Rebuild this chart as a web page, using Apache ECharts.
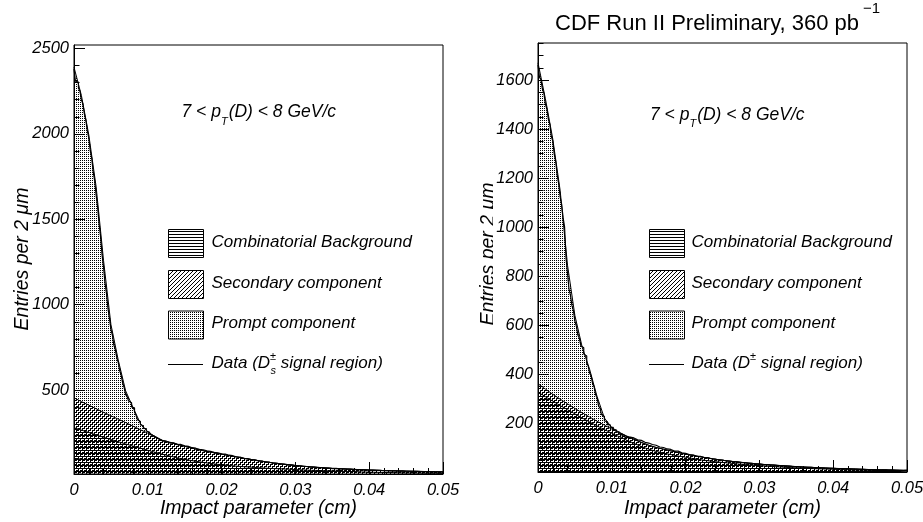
<!DOCTYPE html>
<html>
<head>
<meta charset="UTF-8">
<title>Impact parameter fit</title>
<style>
  body{margin:0;padding:0;background:#fff;}
  #chart{width:923px;height:522px;}
</style>
</head>
<body>
<div id="chart"></div>
<script src="https://cdn.jsdelivr.net/npm/echarts@6/dist/echarts.min.js"></script>
<script>
// data histograms, entries per 2 um
// 2 um steps up to 0.012 cm, then drawn in 5 um steps
var fineW = 0.0002, coarseW = 0.0005, fineEnd = 0.012;
var dsFine = [
  2380, 2308, 2302, 2268, 2251, 2199, 2176, 2118, 2081, 2019,
  1978, 1902, 1858, 1779, 1726, 1641, 1571, 1474, 1398, 1293,
  1221, 1128, 1066, 979, 921, 855, 822, 764, 737, 689,
  661, 612, 586, 540, 515, 474, 462, 436, 426, 401,
  396, 372, 354, 326, 316, 296, 293, 276, 275, 261,
  254, 246, 240, 233, 230, 222, 220, 211, 210, 203
];
var dsCoarse = [
  201, 190, 192, 181, 182, 174,
  171, 163, 160, 153, 151, 144, 141, 136, 133, 127,
  125, 119, 116, 110, 108, 101, 99, 93, 92, 86,
  84, 78, 78, 72, 71, 67, 66, 61, 62, 57,
  56, 54, 53, 49, 50, 46, 47, 43, 44, 41,
  42, 39, 39, 37, 37, 35, 35, 33, 34, 32,
  32, 30, 30, 28, 29, 27, 28, 26, 27, 25,
  25, 24, 25, 23, 23, 22, 23, 21, 22, 21
];
var dpFine = [
  1662, 1612, 1601, 1563, 1546, 1502, 1483, 1441, 1420, 1371,
  1352, 1298, 1268, 1212, 1178, 1124, 1094, 1039, 1001, 874,
  811, 748, 722, 680, 660, 617, 597, 561, 548, 517,
  509, 483, 475, 446, 435, 405, 394, 362, 350, 318,
  305, 273, 262, 236, 228, 210, 207, 195, 194, 184,
  184, 174, 174, 165, 166, 156, 157, 148, 150, 141
];
var dpCoarse = [
  144, 141, 133, 131, 123, 120,
  114, 111, 104, 102, 96, 94, 87, 87, 80, 78,
  73, 72, 66, 66, 61, 61, 56, 55, 51, 51,
  47, 46, 43, 43, 40, 40, 37, 37, 34, 35,
  32, 32, 30, 30, 28, 28, 26, 26, 24, 24,
  23, 22, 21, 21, 20, 19, 19, 18, 17, 17,
  16, 16, 15, 15, 14, 14, 13, 13, 12, 12,
  11, 11, 10, 11, 9, 10, 9, 9, 8, 9
];

// fit components, stacked tops (bkg, bkg+secondary, bkg+secondary+prompt)
var compX = [0, 0.001, 0.002, 0.003, 0.004, 0.005, 0.006, 0.007, 0.008, 0.009,
  0.010, 0.011, 0.012, 0.013, 0.014, 0.015, 0.016, 0.017, 0.018, 0.019,
  0.020, 0.021, 0.022, 0.023, 0.024, 0.025, 0.026, 0.027, 0.028, 0.029,
  0.030, 0.031, 0.032, 0.033, 0.034, 0.035, 0.036, 0.037, 0.038, 0.039,
  0.040, 0.041, 0.042, 0.043, 0.044, 0.045, 0.046, 0.047, 0.048, 0.049, 0.050];

var dsBkg = [280, 266, 252, 238, 224, 211, 198, 185, 172, 160,
  148, 136, 125, 114, 104, 95, 87, 80, 74, 68,
  63, 59, 55, 52, 49, 46, 43, 41, 39, 37,
  35, 33, 31, 30, 28, 27, 25, 24, 23, 21,
  20, 19, 18, 17, 16, 15, 15, 14, 13, 13, 12];
var dsBkgSec = [455, 433, 412, 391, 370, 350, 330, 310, 289, 268,
  248, 224, 204, 193, 182, 171, 160, 150, 141, 133,
  125, 117, 109, 101, 94, 87, 80, 74, 69, 64,
  59, 55, 51, 48, 45, 42, 40, 38, 36, 34,
  32, 31, 29, 28, 27, 26, 25, 24, 23, 22, 21];
var dsAll = [2390, 2225, 1995, 1690, 1260, 885, 675, 495, 398, 305,
  255, 228, 206, 195, 184, 171, 160, 150, 141, 133,
  125, 117, 109, 101, 94, 87, 80, 74, 69, 64,
  59, 55, 51, 48, 45, 42, 40, 38, 36, 34,
  32, 31, 29, 28, 27, 26, 25, 24, 23, 22, 21];

var dpBkg = [328, 309, 291, 273, 256, 239, 222, 206, 190, 175,
  160, 146, 132, 119, 106, 95, 86, 79, 73, 67,
  62, 57, 52, 48, 44, 41, 38, 35, 32, 30,
  28, 26, 24, 22, 20, 19, 17, 16, 15, 14,
  13, 12, 11, 10, 10, 9, 8, 8, 7, 7, 6];
var dpBkgSec = [362, 340, 319, 299, 280, 261, 243, 226, 209, 193,
  177, 162, 148, 135, 122, 111, 102, 95, 88, 81,
  75, 69, 64, 59, 54, 50, 46, 43, 40, 37,
  34, 32, 30, 28, 26, 24, 22, 21, 19, 18,
  17, 16, 15, 14, 13, 12, 11, 11, 10, 9, 9];
var dpAll = [1670, 1524, 1360, 1150, 845, 640, 510, 420, 310, 222,
  183, 164, 149, 136, 123, 111, 102, 95, 88, 81,
  75, 69, 64, 59, 54, 50, 46, 43, 40, 37,
  34, 32, 30, 28, 26, 24, 22, 21, 19, 18,
  17, 16, 15, 14, 13, 12, 11, 11, 10, 9, 9];

// axis ticks
var dsYTicks = [500, 1000, 1500, 2000, 2500];
var dsYMinor = [100, 200, 300, 400, 600, 700, 800, 900, 1100, 1200, 1300, 1400,
  1600, 1700, 1800, 1900, 2100, 2200, 2300, 2400];
var dpYTicks = [200, 400, 600, 800, 1000, 1200, 1400, 1600];
var dpYMinor = [50, 100, 150, 250, 300, 350, 450, 500, 550, 650, 700, 750, 850, 900, 950,
  1050, 1100, 1150, 1250, 1300, 1350, 1450, 1500, 1550, 1650, 1700, 1750];

var FONT = '"Liberation Sans", Arial, sans-serif';

// ROOT-like fill patterns
function makePat(w, h, pix) {
  var c = document.createElement('canvas');
  c.width = w; c.height = h;
  var g = c.getContext('2d');
  g.fillStyle = '#000';
  pix.forEach(function (p) { g.fillRect(p[0], p[1], 1, 1); });
  return { type: 'pattern', image: c, repeat: 'repeat' };
}
var patDots = makePat(2, 2, [[0, 0]]);
var patDiag = makePat(4, 4, [[0, 3], [1, 2], [2, 1], [3, 0]]);
var patHoriz = makePat(4, 3, [[0, 0], [1, 0], [2, 0], [3, 0]]);

var mctx = document.createElement('canvas').getContext('2d');
function tw(s, font) { mctx.font = font; return mctx.measureText(s).width; }

function pairs(ys) { return ys.map(function (v, i) { return [compX[i], v]; }); }
function histPts(fine, coarse) {
  var pts = fine.map(function (v, i) { return [+(i * fineW).toFixed(4), v]; });
  coarse.forEach(function (v, i) { pts.push([+(fineEnd + i * coarseW).toFixed(4), v]); });
  pts.push([0.05, coarse[coarse.length - 1]]);
  return pts;
}

function txt(x, y, s, font, z) {
  return { type: 'text', x: x, y: y, silent: true, z: z || 3,
    style: { text: s, font: font, fill: '#000', textAlign: 'left', textVerticalAlign: 'middle',
      align: 'left', verticalAlign: 'middle' } };
}

var fLab = 'italic 17px ' + FONT, fSmall = 'italic 11px ' + FONT;

function ptLabel(x, y) {
  var f1 = 'italic 17.5px ' + FONT;
  var wa = tw('7 < p', f1), wb = tw('T', fSmall);
  return [txt(x, y, '7 < p', f1), txt(x + wa, y + 9, 'T', fSmall), txt(x + wa + wb + 1, y, '(D) < 8 GeV/c', f1)];
}

function legend(bx, tx, withS) {
  var els = [];
  var ys = [243.5, 284.5, 325];
  var pats = [patHoriz, patDiag, patDots];
  var names = ['Combinatorial Background', 'Secondary component', 'Prompt component'];
  for (var i = 0; i < 3; i++) {
    els.push({ type: 'rect', silent: true, z: 3,
      shape: { x: bx + 0.5, y: ys[i] - 14, width: 35, height: 28 },
      style: { fill: pats[i], stroke: '#000', lineWidth: 1 } });
    els.push(txt(tx, ys[i] - 1.5, names[i], fLab));
  }
  var yd = 363;
  els.push({ type: 'line', silent: true, z: 3, shape: { x1: bx, y1: yd + 1.5, x2: bx + 35, y2: yd + 1.5 },
    style: { stroke: '#000', lineWidth: 1 } });
  var w1 = tw('Data (D', fLab);
  els.push(txt(tx, yd, 'Data (D', fLab));
  els.push(txt(tx + w1, yd - 6, '\u00b1', fSmall));
  var w2 = tw('\u00b1', fSmall);
  if (withS) {
    els.push(txt(tx + w1 + 0.5, yd + 8, 's', fSmall));
    w2 = Math.max(w2, tw('s', fSmall));
  }
  els.push(txt(tx + w1 + w2, yd, ' signal region)', fLab));
  return els;
}

function xAxisOf(g) {
  return { type: 'value', gridIndex: g, min: 0, max: 0.05, interval: 0.01,
    axisLine: { show: true, onZero: false, lineStyle: { color: '#000', width: 1 } },
    axisTick: { show: true, inside: true, length: 12, lineStyle: { color: '#000' } },
    minorTick: { show: true, splitNumber: 5, length: 6, lineStyle: { color: '#000' } },
    splitLine: { show: false }, minorSplitLine: { show: false },
    axisLabel: { margin: 8, color: '#000', fontFamily: FONT, fontStyle: 'italic', fontSize: 16.5,
      formatter: function (v) { return v === 0 ? '0' : v.toFixed(2); } },
    z: 10 };
}
function yAxesOf(g, min, max, ticks, minor) {
  return [{ type: 'value', gridIndex: g, position: 'left', min: min, max: max,
      axisLine: { show: true, onZero: false, lineStyle: { color: '#000', width: 1 } },
      axisTick: { show: true, inside: true, length: 11, customValues: ticks, lineStyle: { color: '#000' } },
      axisLabel: { customValues: ticks, margin: 5, color: '#000', fontFamily: FONT, fontStyle: 'italic', fontSize: 16.5,
        formatter: function (v) { return String(Math.round(v)); } },
      splitLine: { show: false }, z: 10 },
    { type: 'value', gridIndex: g, position: 'left', min: min, max: max,
      axisLine: { show: false },
      axisTick: { show: true, inside: true, length: 5.5, customValues: minor, lineStyle: { color: '#000' } },
      axisLabel: { show: false }, splitLine: { show: false }, z: 10 }];
}

function panelSeries(g, all, bkgSec, bkg, fine, coarse) {
  var base = { type: 'line', xAxisIndex: g, yAxisIndex: 2 * g, symbol: 'none', silent: true,
    smooth: false, animation: false };
  function area(vals, pat, z) {
    return Object.assign({}, base, { data: pairs(vals), z: z,
      lineStyle: { color: '#000', width: 1 },
      areaStyle: { color: pat, opacity: 1, origin: 'start' } });
  }
  return [
    area(all, patDots, 2),
    area(bkgSec, patDiag, 3),
    area(bkg, patHoriz, 4),
    Object.assign({}, base, { data: histPts(fine, coarse), step: 'end', z: 5,
      lineStyle: { color: '#000', width: 1.2 } })
  ];
}

var yTitleFont = 'italic 19.5px ' + FONT;
var graphics = []
  .concat([{ type: 'text', x: 23, y: 259, rotation: Math.PI / 2, silent: true, z: 0,
      style: { text: 'Entries per 2 \u03bcm', font: yTitleFont, fill: '#000',
        textAlign: 'center', textVerticalAlign: 'middle', align: 'center', verticalAlign: 'middle' } },
    { type: 'text', x: 489, y: 254, rotation: Math.PI / 2, silent: true, z: 0,
      style: { text: 'Entries per 2 \u03bcm', font: yTitleFont, fill: '#000',
        textAlign: 'center', textVerticalAlign: 'middle', align: 'center', verticalAlign: 'middle' } },
    // the right pad covers the edge of its axis title
    { type: 'rect', silent: true, z: 1, shape: { x: 493, y: 160, width: 44, height: 190 }, style: { fill: '#fff' } },
    { type: 'text', x: 258.5, y: 509, silent: true, z: 3,
      style: { text: 'Impact parameter (cm)', font: yTitleFont, fill: '#000',
        textAlign: 'center', textVerticalAlign: 'middle', align: 'center', verticalAlign: 'middle' } },
    { type: 'text', x: 722.5, y: 509, silent: true, z: 3,
      style: { text: 'Impact parameter (cm)', font: yTitleFont, fill: '#000',
        textAlign: 'center', textVerticalAlign: 'middle', align: 'center', verticalAlign: 'middle' } }
  ])
  .concat([txt(555, 24, 'CDF Run II Preliminary, 360 pb', '22px ' + FONT),
    txt(555 + tw('CDF Run II Preliminary, 360 pb', '22px ' + FONT) + 4, 9, '\u22121', '15px ' + FONT)])
  .concat(ptLabel(181.5, 112.5))
  .concat(ptLabel(650, 115))
  .concat(legend(168, 211.5, true))
  .concat(legend(649, 691.5, false));

var chart = echarts.init(document.getElementById('chart'), null, { renderer: 'canvas' });
chart.setOption({
  animation: false,
  backgroundColor: '#fff',
  grid: [
    { left: 74, top: 45, width: 369, height: 429, show: true, borderColor: '#000', borderWidth: 1,
      backgroundColor: 'transparent', containLabel: false, outerBoundsMode: 'none' },
    { left: 538, top: 43, width: 369, height: 429, show: true, borderColor: '#000', borderWidth: 1,
      backgroundColor: 'transparent', containLabel: false, outerBoundsMode: 'none' }
  ],
  xAxis: [xAxisOf(0), xAxisOf(1)],
  yAxis: yAxesOf(0, 9, 2520, dsYTicks, dsYMinor).concat(yAxesOf(1, 2, 1751, dpYTicks, dpYMinor)),
  series: panelSeries(0, dsAll, dsBkgSec, dsBkg, dsFine, dsCoarse)
    .concat(panelSeries(1, dpAll, dpBkgSec, dpBkg, dpFine, dpCoarse)),
  graphic: { elements: graphics }
});
</script>
</body>
</html>
